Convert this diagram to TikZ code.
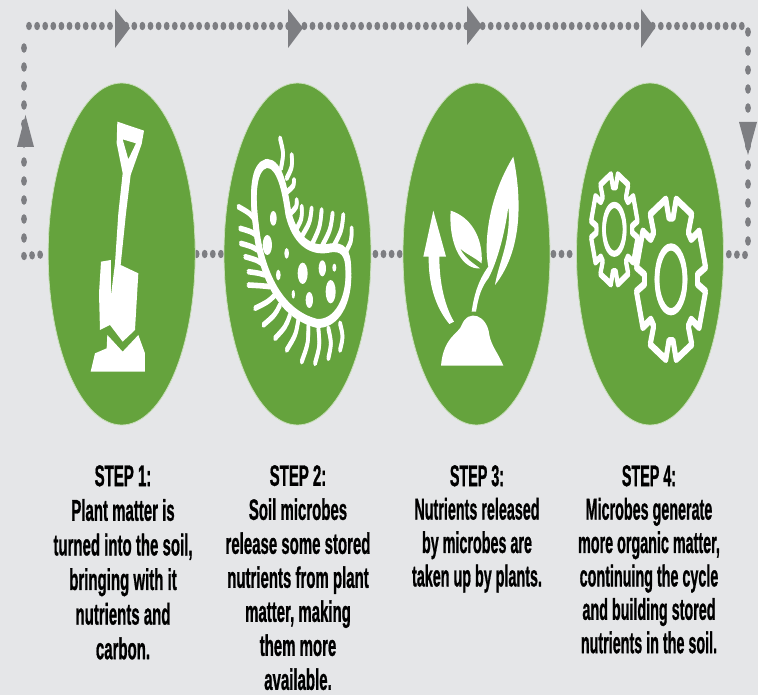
\documentclass[tikz,border=0pt]{standalone}
\usepackage{fontspec}
\setmainfont[BoldFeatures={FakeBold=1.2}]{Liberation Sans}
\usetikzlibrary{shapes.geometric,backgrounds,decorations.markings}
\definecolor{bgc}{HTML}{E5E6E8}
\definecolor{grn}{HTML}{65A33D}
\definecolor{dotc}{HTML}{7D7E82}
\tikzset{
  disc/.style={ellipse,fill=grn,draw=grn!35!white,line width=.8pt,minimum width=147pt,minimum height=342pt,inner sep=0pt},
  hdots/.style={decorate,decoration={markings,mark=between positions #1 and 1 step 8.1pt with {\fill[dotc] (0,0) ellipse [x radius=2.9pt,y radius=4.2pt];}}},
  hdots/.default=2pt,
  vdots/.style={decorate,decoration={markings,mark=between positions 0pt and 1 step 19pt with {\fill[dotc] (0,0) ellipse [x radius=4.8pt,y radius=2.9pt];}}},
  arrowtri/.style={fill=dotc,draw=none},
  icon/.style={fill=white,draw=none},
  iconline/.style={draw=white,fill=none,line join=round,line cap=round},
  captbase/.style={align=center,text=black,anchor=north,inner sep=0pt},
  captext/.style={captbase,font=\bfseries\fontsize{30}{34.6}\selectfont,xscale=0.5},
  captextc/.style={captbase,font=\bfseries\fontsize{29.5}{34}\selectfont,xscale=0.508},
  captextb/.style={captbase,font=\bfseries\fontsize{30}{33.4}\selectfont,xscale=0.478},
  z1/.style={x=0.33333pt,y=-0.33333pt},
  z2/.style={x=0.33333pt,y=-0.33333pt,shift={(380pt,0pt)}}
}
\begin{document}
\begin{tikzpicture}[x=1pt,y=-1pt]
\useasboundingbox (0,0) rectangle (758,695);
\begin{scope}[on background layer]
\fill[bgc] (0,0) rectangle (758,695);
\end{scope}
\node[disc] (c1) at (121.7,254) {};
\node[disc] (c2) at (297.5,254) {};
\node[disc] (c3) at (476.5,254) {};
\node[disc] (c4) at (650,254) {};
\coordinate (bl) at (24,256);
\coordinate (blv) at (24,238);
\coordinate (tl) at (24,30);
\coordinate (tlh) at (29,26);
\coordinate (trh) at (744,26);
\coordinate (trv) at (748,32);
\coordinate (brv) at (748,241);
\coordinate (br) at (745,255);
\begin{scope}[on background layer]
\path[hdots=1pt] (c1.east) -- (c2.west);
\path[hdots=4pt] (c2.east) -- (c3.west);
\path[hdots=3pt] (c3.east) -- (c4.west);
\path[hdots=0pt] (bl) -- (c1.west);
\path[hdots=0pt] (br) -- (c4.east);
\path[vdots] (blv) -- (tl);
\path[hdots=0pt] (tlh) -- (trh);
\path[vdots] (trv) -- (brv);
\end{scope}
% arrowheads
\fill[arrowtri] (115,9) -- (130,28) -- (115,48) -- cycle;
\fill[arrowtri] (288,9) -- (303,28) -- (288,48) -- cycle;
\fill[arrowtri] (467,6) -- (482,26) -- (467,45) -- cycle;
\fill[arrowtri] (641,9) -- (655,28) -- (641,48) -- cycle;
\fill[arrowtri] (17,147) -- (25.5,115) -- (34,147) -- cycle;
\fill[arrowtri] (739,122) -- (748,155) -- (757,122) -- cycle;
% shovel
\begin{scope}[z1]
\fill[icon,even odd rule] (352,365) -- (432,392) -- (425,432) -- (392,525) -- (378,640) -- (362,795) -- (415,820) -- (405,990) -- (368,1025) -- (330,975) -- (300,990) -- (297,880) -- (303,785) -- (333,780) -- (333,885) -- (345,790) -- (355,640) -- (368,520) -- (350,430) -- cycle
 (368,418) -- (408,430) -- (385,478) -- cycle;
\fill[icon] (322,1005) -- (368,1055) -- (415,1005) -- (435,1060) -- (435,1115) -- (272,1115) -- (285,1060) -- (320,1045) -- cycle;
\end{scope}
% microbe
\begin{scope}[z1]
\foreach \o in {-5,5}
 \draw[iconline,line width=5.6pt] (800,490+\o) .. controls (760,500+\o) and (755,580+\o) .. (768,680+\o) .. controls (780,800+\o) and (830,940+\o) .. (950,970+\o) .. controls (1010,975+\o) and (1050,900+\o) .. (1045,810+\o) .. controls (1045,760+\o) and (1030,735+\o) .. (985,745+\o) .. controls (930,755+\o) and (885,720+\o) .. (865,640+\o) .. controls (855,570+\o) and (840,490+\o) .. (800,490+\o) -- cycle;
\foreach \ax/\ay/\bx/\by in {840/415/843/505,875/465/860/535,882/540/862/575,890/600/872/640,905/620/888/690,935/625/905/710,965/630/935/735,998/640/965/740,1030/645/1000/740,1055/685/1035/760,
 715/620/765/660,720/685/768/705,722/730/772/750,735/770/785/790,745/815/795/825,745/855/810/860,765/925/825/885,790/975/840/915,825/1015/870/945,860/1050/895/960,905/1085/925/975,945/1090/955/985,985/1075/985/985,1020/1050/1020/970}
 \foreach \o in {-3,3}
 \draw[iconline,line width=3.6pt] (\ax,\ay+\o) .. controls ({(\ax+\bx)/2+10},{(\ay+\by)/2+\o}) .. (\bx,\by+\o);
\foreach \cx/\cy/\rx/\ry in {820/655/10/22,802/735/14/30,860/760/7/16,835/825/7/16,908/820/15/32,967/805/11/24,1003/803/6/12,880/883/5/13,928/900/11/24,992/875/15/35}
 \fill[icon] (\cx,\cy) ellipse [x radius=\rx,y radius=\ry];
\end{scope}
% plant
\begin{scope}[z2]
\fill[icon] (160,632) -- (198,770) -- (178,770) .. controls (178,850) and (195,920) .. (222,965) -- (208,972) .. controls (165,920) and (145,850) .. (146,770) -- (130,770) -- cycle;
\fill[icon] (183,1097) -- (370,1097) .. controls (355,1060) and (335,1040) .. (328,1005) .. controls (322,945) and (265,925) .. (245,975) .. controls (238,1000) and (190,1010) .. (183,1097) -- cycle;
\fill[icon] (275,935) .. controls (285,860) and (310,820) .. (325,800) .. controls (312,740) and (320,600) .. (400,470) .. controls (430,620) and (420,760) .. (345,855) .. controls (355,790) and (395,720) .. (385,620) .. controls (375,700) and (350,790) .. (325,835) .. controls (305,860) and (295,890) .. (288,935) -- cycle;
\fill[icon] (212,632) .. controls (270,650) and (310,710) .. (305,790) .. controls (280,770) and (255,760) .. (240,745) .. controls (255,775) and (280,790) .. (300,805) .. controls (250,810) and (205,740) .. (212,632) -- cycle;
\end{scope}
% gears
\foreach \o in {-1.3,1.3}{
\begin{scope}[shift={(614.33pt,-229.33pt-\o pt)},x=23.5pt,y=-55.5pt]
\draw[iconline,line width=3.8pt,line cap=butt,miter limit=4] (8.5:1) \foreach \a in {22.5,67.5,...,337.5}{ -- (\a-14:1) -- (\a+14:1) -- (\a+18:.76) -- (\a+27:.76)} -- cycle;
\draw[iconline,line width=3.6pt] (0,0) ellipse [x radius=.44,y radius=.44];
\end{scope}
\begin{scope}[shift={(671pt,-279.33pt-\o pt)},x=35pt,y=-81pt]
\draw[iconline,line width=4.6pt,line cap=butt,miter limit=4] (8.5:1) \foreach \a in {22.5,67.5,...,337.5}{ -- (\a-14:1) -- (\a+14:1) -- (\a+18:.76) -- (\a+27:.76)} -- cycle;
\draw[iconline,line width=4.6pt] (0,0) ellipse [x radius=.4,y radius=.4];
\end{scope}
}
% captions
\node[captext] (t1) at (123,465) {STEP 1:\\Plant matter is\\turned into the soil,\\bringing with it\\nutrients and\\carbon.};
\node[captextc] (t2) at (298,465) {STEP 2:\\Soil microbes\\release some stored\\nutrients from plant\\matter, making\\them more\\available.};
\node[captextb] (t3) at (477,465) {STEP 3:\\Nutrients released\\by microbes are\\taken up by plants.};
\node[captextb] (t4) at (649,465) {STEP 4:\\Microbes generate\\more organic matter,\\continuing the cycle\\and building stored\\nutrients in the soil.};
\end{tikzpicture}
\end{document}
